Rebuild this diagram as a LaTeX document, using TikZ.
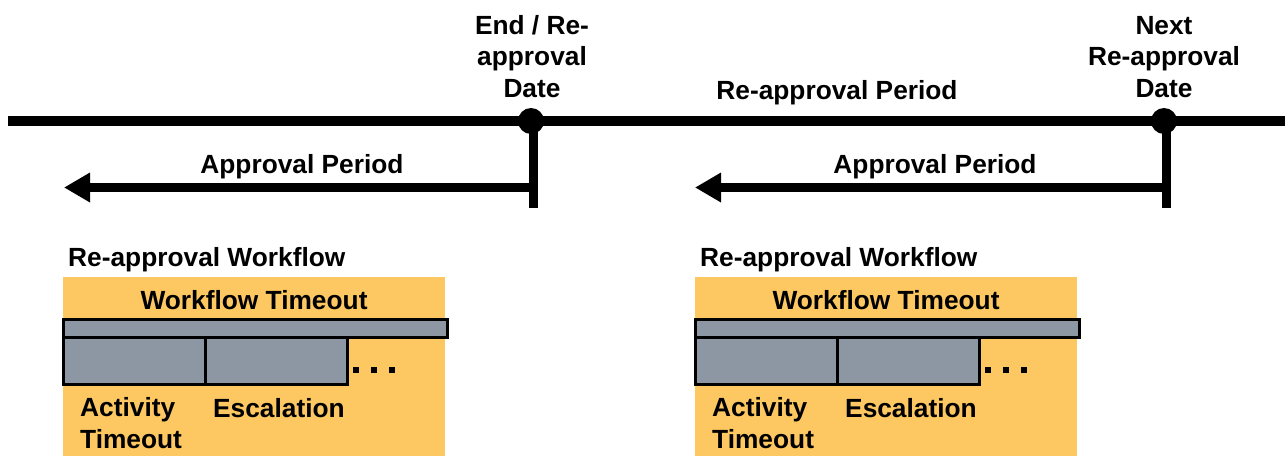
\documentclass[tikz,border=0pt]{standalone}
\usepackage{fontspec}
\setmainfont{Liberation Sans}
\usetikzlibrary{arrows.meta}
\definecolor{wforange}{RGB}{253,199,97}
\definecolor{wfgray}{RGB}{141,151,163}
\begin{document}
\begin{tikzpicture}[x=1pt,y=-1pt,
  lbl/.style={font=\fontsize{26.3}{31.5}\selectfont\bfseries, inner sep=0pt, text=black},
  dotnode/.style={circle, fill=black, minimum size=26pt, inner sep=0pt},
  tline/.style={line width=10pt},
  vline/.style={line width=9pt},
  arr/.style={line width=9pt, -{Triangle[length=26pt,width=28pt]}},
  bar/.style={draw=black, fill=wfgray, line width=3pt},
  panel/.style={fill=wforange}]
\useasboundingbox (0,0) rectangle (1285,456);
% timeline
\coordinate (tl) at (8,121);
\coordinate (tr) at (1290,121);
\draw[tline] (tl) -- (tr);
\node[dotnode] (d1) at (531,121) {};
\node[dotnode] (d2) at (1164,121) {};
\coordinate (v1) at (533,208);
\coordinate (v2) at (1166,208);
\draw[vline] (533,121) -- (v1);
\draw[vline] (1166,121) -- (v2);
\coordinate (a1s) at (537,187.5);
\coordinate (a1e) at (64,187.5);
\coordinate (a2s) at (1170,187.5);
\coordinate (a2e) at (695,187.5);
\draw[arr] (a1s) -- (a1e);
\draw[arr] (a2s) -- (a2e);
% labels on top
\node[lbl, align=center, anchor=base] (end) at (532,97) {End / Re-\\approval\\Date};
\node[lbl, align=center, anchor=base] (next) at (1164,97) {Next\\Re-approval\\Date};
\node[lbl, anchor=base] (rap) at (837,99) {Re-approval Period};
\node[lbl, anchor=base] (ap1) at (302,173) {Approval Period};
\node[lbl, anchor=base] (ap2) at (935,173) {Approval Period};
% workflow panels
\foreach \o/\s in {0/a,632/b}{
\begin{scope}[xshift=\o pt]
  \node[lbl, anchor=base west] (rw\s) at (68,266) {Re-approval Workflow};
  \fill[panel] (63,277) rectangle (445,456);
  \node[lbl, anchor=base] (wt\s) at (254,309) {Workflow Timeout};
  \draw[bar] (63,319) rectangle (447,337);
  \draw[bar] (63,337) rectangle (205,384);
  \draw[bar] (205,337) rectangle (347,384);
  \fill[black] (353,367) rectangle (359,373);
  \fill[black] (371,367) rectangle (377,373);
  \fill[black] (389,367) rectangle (395,373);
  \node[lbl, anchor=base west, align=left] (at\s) at (80,448) {Activity\\Timeout};
  \node[lbl, anchor=base west] (es\s) at (213,417) {Escalation};
\end{scope}
}
\end{tikzpicture}
\end{document}
